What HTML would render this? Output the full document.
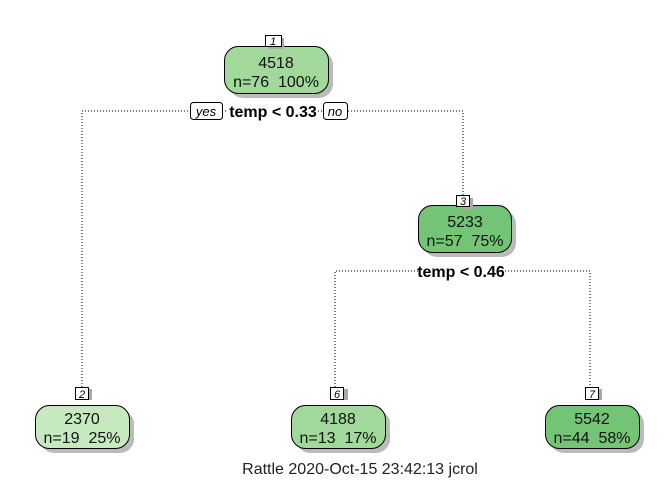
<!DOCTYPE html>
<html><head><style>
html,body{margin:0;padding:0;background:#fff;}
svg{display:block;font-family:"Liberation Sans",sans-serif;}
</style></head><body>
<svg width="672" height="480" viewBox="0 0 672 480" xmlns="http://www.w3.org/2000/svg">
<g stroke="#000" stroke-width="1" stroke-dasharray="1,2" fill="none">
<path d="M82 390 V111 H190 M222 111 H228 M318 111 H323 M348 111 H463 V196"/>
<path d="M335 390 V271 H418 M505 271 H590 V390"/>
</g>
<g fill="#bbb">
<rect x="229" y="51" width="104" height="47" rx="14"/>
<rect x="423" y="210" width="93" height="47" rx="14"/>
<rect x="40" y="410" width="94" height="43" rx="14"/>
<rect x="296" y="410" width="94" height="43" rx="14"/>
<rect x="550" y="410" width="94" height="43" rx="14"/>
</g>
<g stroke="#000" stroke-width="1">
<rect x="224.5" y="46.5" width="104" height="47" rx="14" fill="#a1d99b"/>
<rect x="418.5" y="205.5" width="93" height="47" rx="14" fill="#74c476"/>
<rect x="35.5" y="405.5" width="94" height="43" rx="14" fill="#c7e9c0"/>
<rect x="291.5" y="405.5" width="94" height="43" rx="14" fill="#a1d99b"/>
<rect x="545.5" y="405.5" width="94" height="43" rx="14" fill="#74c476"/>
</g>
<g fill="#aaa">
<rect x="268" y="38" width="16" height="11"/><rect x="459" y="198" width="14" height="11"/>
<rect x="78" y="389" width="14" height="11"/><rect x="334" y="389" width="14" height="11"/><rect x="588" y="389" width="14" height="11"/>
</g>
<g stroke="#000" fill="#fff">
<rect x="265.5" y="35.5" width="16" height="11"/><rect x="456.5" y="195.5" width="13" height="11"/>
<rect x="75.5" y="387.5" width="13" height="12"/><rect x="330.5" y="387.5" width="13" height="12"/><rect x="585.5" y="387.5" width="13" height="12"/>
<rect x="190.5" y="102.5" width="32" height="17" rx="3"/><rect x="323.5" y="102.5" width="24" height="17" rx="3"/>
</g>
<g font-size="11" font-style="italic" text-anchor="middle" fill="#000">
<text x="273" y="45">1</text><text x="463" y="205">3</text>
<text x="82" y="398">2</text><text x="337" y="398">6</text><text x="592" y="398">7</text>
</g>
<g font-size="13" font-style="italic" text-anchor="middle">
<text x="206" y="116">yes</text><text x="335" y="116">no</text>
</g>
<g font-size="16" font-weight="bold" text-anchor="middle">
<text x="273" y="117">temp &lt; 0.33</text>
<text x="461" y="277">temp &lt; 0.46</text>
</g>
<g font-size="16" text-anchor="middle" fill="#111">
<text x="276" y="68">4518</text><text x="276" y="87">n=76&#160;&#160;100%</text>
<text x="465" y="227">5233</text><text x="465" y="246">n=57&#160;&#160;75%</text>
<text x="82" y="424">2370</text><text x="82" y="443">n=19&#160;&#160;25%</text>
<text x="338" y="424">4188</text><text x="338" y="443">n=13&#160;&#160;17%</text>
<text x="592" y="424">5542</text><text x="592" y="443">n=44&#160;&#160;58%</text>
</g>
<text x="360" y="474" font-size="16" text-anchor="middle" fill="#222">Rattle 2020-Oct-15 23:42:13 jcrol</text>
</svg>
</body></html>
